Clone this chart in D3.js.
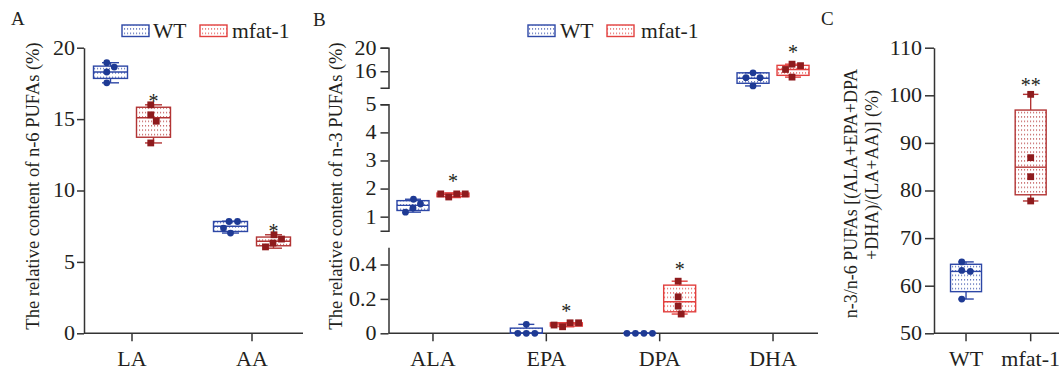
<!DOCTYPE html>
<html>
<head>
<meta charset="utf-8">
<script src="https://cdn.jsdelivr.net/npm/d3@7"></script>
<style>
  body { margin: 0; background: #fff; }
  svg { display: block; }
  text { font-family: "Liberation Serif", "Times New Roman", serif; fill: #231f20; }
  .wide { transform-box: fill-box; transform-origin: center; transform: scaleX(1.1); }
  .wide-r { transform-box: fill-box; transform-origin: right center; transform: scaleX(1.1); }
  .wide-l { transform-box: fill-box; transform-origin: left center; transform: scaleX(1.08); }
</style>
</head>
<body>
<svg id="chart" width="1059" height="374"></svg>
<script>
// ---------- data ----------
const groups = ['WT', 'mfat-1'];

// Panel A : n-6 PUFAs, box = [min, q1, median, q3, max]
const catsA = ['LA', 'AA'];
const boxA_WT = [[17.54, 17.85, 18.3, 18.71, 18.95], [7.02, 7.13, 7.5, 7.83, 7.85]];
const boxA_M  = [[13.33, 13.73, 15.09, 15.83, 16.0], [5.96, 6.13, 6.45, 6.74, 6.9]];
const ptsA_WT = [[18.95, 18.64, 18.3, 17.54], [7.83, 7.83, 7.37, 7.02]];
const ptsA_M  = [[16.0, 15.3, 14.85, 13.33], [6.9, 6.6, 6.32, 6.05]];
const starsA  = ['*', '*'];
const ticksA  = [0, 5, 10, 15, 20];

// Panel B : n-3 PUFAs (broken y axis)
const catsB = ['ALA', 'EPA', 'DPA', 'DHA'];
const boxB_WT = [[1.16, 1.22, 1.40, 1.57, 1.62], [0, 0, 0, 0.03, 0.052], [0, 0, 0, 0, 0], [13.5, 13.95, 14.8, 15.73, 15.75]];
const boxB_M  = [[1.68, 1.71, 1.79, 1.84, 1.84], [0.038, 0.042, 0.054, 0.061, 0.061], [0.112, 0.125, 0.183, 0.28, 0.303], [15.0, 15.3, 16.3, 17.0, 17.2]];
const ptsB_WT = [[1.62, 1.45, 1.31, 1.16], [0.052, 0, 0, 0], [0, 0, 0, 0], [15.73, 14.9, 14.9, 13.5]];
const ptsB_M  = [[1.70, 1.81, 1.81, 1.81], [0.038, 0.061, 0.048, 0.061], [0.303, 0.212, 0.158, 0.112], [17.2, 16.95, 16.3, 15.0]];
const starsB  = ['*', '*', '*', '*'];
const segDomainsB = [[0, 0.5], [0.5, 5], [13.2, 20]];
const segTicksB   = [[0, 0.2, 0.4], [1, 2, 3, 4, 5], [16, 20]];

// Panel C : n-3/n-6 ratio
const catsC = ['WT', 'mfat-1'];
const boxC  = [[57.2, 58.75, 63.0, 64.5, 65.0], [77.8, 79.1, 84.9, 96.9, 100.2]];
const ptsC  = [[65.0, 63.2, 63.0, 57.2], [100.2, 86.9, 82.9, 77.8]];
const starsC = ['', '**'];
const ticksC = [50, 60, 70, 80, 90, 100, 110];

// ---------- styling ----------
const blue = '#2d47a6', blueDot = '#1e3a94';
const redA = '#b23434', redB = '#e2403f', redDot = '#8e1b1d';
const axisColor = '#333';
const yTop = 47.7, yBot = 333.3;

const svg = d3.select('#chart');
const defs = svg.append('defs');
function dotPattern(id, color) {
  const p = defs.append('pattern').attr('id', id)
    .attr('patternUnits', 'userSpaceOnUse').attr('width', 3).attr('height', 4.4);
  p.append('rect').attr('x', 1).attr('y', 2).attr('width', 1.1).attr('height', 1.1).attr('fill', color);
}
dotPattern('patBlue', blue);
dotPattern('patRedA', redA);
dotPattern('patRedB', redB);

// simple dodge so overlapping points sit side by side
function swarm(vals, y, r) {
  const placed = [];
  const minD = 2 * r + 1.5;
  vals.forEach(v => {
    const py = y(v);
    let dx = 0;
    for (let k = 0; k < 80; k++) {
      const c = (k % 2 ? 1 : -1) * Math.ceil(k / 2) * 0.5;
      if (placed.every(p => Math.hypot(p.dx - c, p.y - py) >= minD)) { dx = c; break; }
    }
    placed.push({ dx: dx, y: py, v: v });
  });
  const ext = d3.extent(placed, p => p.dx);
  const shift = (ext[0] + ext[1]) / 2;
  placed.forEach(p => p.dx -= shift);
  return placed;
}

function drawBox(g, cx, w, stats, pts, y, stroke, pat, dotColor, shape, star, starGap) {
  const [mn, q1, md, q3, mx] = stats;
  const box = g.append('g');
  box.append('line').attr('x1', cx).attr('x2', cx).attr('y1', y(mx)).attr('y2', y(q3))
    .attr('stroke', stroke).attr('stroke-width', 1.4);
  box.append('line').attr('x1', cx).attr('x2', cx).attr('y1', y(q1)).attr('y2', y(mn))
    .attr('stroke', stroke).attr('stroke-width', 1.4);
  [mn, mx].forEach(v => box.append('line')
    .attr('x1', cx - w / 4).attr('x2', cx + w / 4).attr('y1', y(v)).attr('y2', y(v))
    .attr('stroke', stroke).attr('stroke-width', 1.4));
  box.append('rect').attr('x', cx - w / 2).attr('y', y(q3))
    .attr('width', w).attr('height', Math.max(0.01, y(q1) - y(q3)))
    .attr('fill', `url(#${pat})`).attr('stroke', stroke).attr('stroke-width', 1.4);
  box.append('line').attr('x1', cx - w / 2).attr('x2', cx + w / 2).attr('y1', y(md)).attr('y2', y(md))
    .attr('stroke', stroke).attr('stroke-width', 1.4);
  const r = 3.4;
  swarm(pts, y, r).forEach(p => {
    if (shape === 'circle') {
      box.append('circle').attr('cx', cx + p.dx).attr('cy', p.y).attr('r', r).attr('fill', dotColor);
    } else {
      box.append('rect').attr('x', cx + p.dx - r).attr('y', p.y - r)
        .attr('width', 2 * r).attr('height', 2 * r).attr('fill', dotColor);
    }
  });
  if (star) {
    box.append('text').attr('x', cx).attr('y', y(mx) - starGap + 11)
      .attr('text-anchor', 'middle').style('font-size', '20px').text(star);
  }
}

function styleAxis(sel, cls) {
  sel.selectAll('path, line').attr('stroke', axisColor).attr('stroke-width', 1.5);
  sel.selectAll('text').style('font-size', '20px').attr('fill', '#231f20').attr('class', cls);
}

function xAxis(g, scale, x0, x1, tickLen) {
  const ax = g.append('g').attr('transform', `translate(0,${yBot})`)
    .call(d3.axisBottom(scale).tickSize(tickLen).tickPadding(11).tickSizeOuter(0));
  ax.select('.domain').remove();
  ax.append('line').attr('x1', x0).attr('x2', x1).attr('y1', 0).attr('y2', 0);
  styleAxis(ax, 'wide');
}

function legend(g, y, items) {
  items.forEach(it => {
    g.append('rect').attr('x', it.x).attr('y', y).attr('width', 27).attr('height', 11.5)
      .attr('fill', `url(#${it.pat})`).attr('stroke', it.color).attr('stroke-width', 1.4);
    g.append('text').attr('class', 'wide-l').attr('x', it.tx).attr('y', y + 13)
      .style('font-size', '20px').text(it.label);
  });
}

function yTitle(x, y, txt, size) {
  svg.append('text').attr('transform', `translate(${x},${y}) rotate(-90)`)
    .attr('text-anchor', 'middle').style('font-size', size + 'px').text(txt);
}

// ---------- Panel A ----------
{
  const g = svg.append('g');
  const y = d3.scaleLinear().domain([0, 20]).range([yBot, yTop]);
  const x = d3.scaleBand().domain(catsA).range([72, 312]);
  const ay = g.append('g').attr('transform', 'translate(84,0)')
    .call(d3.axisLeft(y).tickValues(ticksA).tickSize(7).tickPadding(2).tickSizeOuter(0));
  styleAxis(ay, 'wide-r');
  xAxis(g, x, 84, 303, 8);
  catsA.forEach((c, i) => {
    const cx = x(c) + x.bandwidth() / 2;
    drawBox(g, cx - 21.5, 34, boxA_WT[i], ptsA_WT[i], y, blue, 'patBlue', blueDot, 'circle', '', 0);
    drawBox(g, cx + 21.5, 34, boxA_M[i], ptsA_M[i], y, redA, 'patRedA', redDot, 'square', starsA[i], 8);
  });
  legend(g, 25, [
    { x: 122, tx: 153, label: groups[0], pat: 'patBlue', color: blue },
    { x: 200, tx: 232, label: groups[1], pat: 'patRedB', color: redB }
  ]);
  yTitle(38.5, 186, 'The relative content of n-6 PUFAs (%)', 18.5);
  svg.append('text').attr('x', 11).attr('y', 25).style('font-size', '19px').text('A');
}

// ---------- Panel B ----------
{
  const g = svg.append('g');
  const segRanges = [[yBot, 247.3], [230.7, 104.3], [87.7, yTop]];
  const segs = segDomainsB.map((d, i) => d3.scaleLinear().domain(d).range(segRanges[i]));
  const y = v => {
    const i = v <= segDomainsB[0][1] ? 0 : (v <= segDomainsB[1][1] ? 1 : 2);
    return segs[i](v);
  };
  segs.forEach((s, i) => {
    const ay = g.append('g').attr('transform', 'translate(388.5,0)')
      .call(d3.axisLeft(s).tickValues(segTicksB[i]).tickFormat(d3.format('~g'))
        .tickSize(8).tickPadding(4).tickSizeOuter(i === 0 ? 0 : 8));
    styleAxis(ay, 'wide-r');
  });
  const x = d3.scaleBand().domain(catsB).range([376.3, 829.7]);
  xAxis(g, x, 388.5, 818, 8);
  catsB.forEach((c, i) => {
    const cx = x(c) + x.bandwidth() / 2;
    drawBox(g, cx - 20, 32, boxB_WT[i], ptsB_WT[i], y, blue, 'patBlue', blueDot, 'circle', '', 0);
    drawBox(g, cx + 20, 32, boxB_M[i], ptsB_M[i], y, redB, 'patRedB', redDot, 'square', starsB[i], 16);
  });
  legend(g, 25, [
    { x: 528, tx: 560, label: groups[0], pat: 'patBlue', color: blue },
    { x: 607, tx: 641, label: groups[1], pat: 'patRedB', color: redB }
  ]);
  yTitle(341.5, 186, 'The relative content of n-3 PUFAs (%)', 18.5);
  svg.append('text').attr('x', 313).attr('y', 26).style('font-size', '19px').text('B');
}

// ---------- Panel C ----------
{
  const g = svg.append('g');
  const y = d3.scaleLinear().domain([50, 110]).range([yBot, yTop]);
  const x = d3.scaleBand().domain(catsC).range([933.7, 1063]);
  const ay = g.append('g').attr('transform', 'translate(934,0)')
    .call(d3.axisLeft(y).tickValues(ticksC).tickSize(9).tickPadding(3).tickSizeOuter(0));
  styleAxis(ay, 'wide-r');
  xAxis(g, x, 934, 1059, 8);
  const cols = [[blue, 'patBlue', blueDot, 'circle'], [redA, 'patRedA', redDot, 'square']];
  catsC.forEach((c, i) => {
    const cx = x(c) + x.bandwidth() / 2;
    drawBox(g, cx, 31, boxC[i], ptsC[i], y, cols[i][0], cols[i][1], cols[i][2], cols[i][3], starsC[i], 13);
  });
  yTitle(856.5, 193.5, 'n-3/n-6 PUFAs [(ALA+EPA+DPA', 18);
  yTitle(878, 175, '+DHA)/(LA+AA)] (%)', 18);
  svg.append('text').attr('x', 821).attr('y', 25).style('font-size', '19px').text('C');
}
</script>
</body>
</html>
